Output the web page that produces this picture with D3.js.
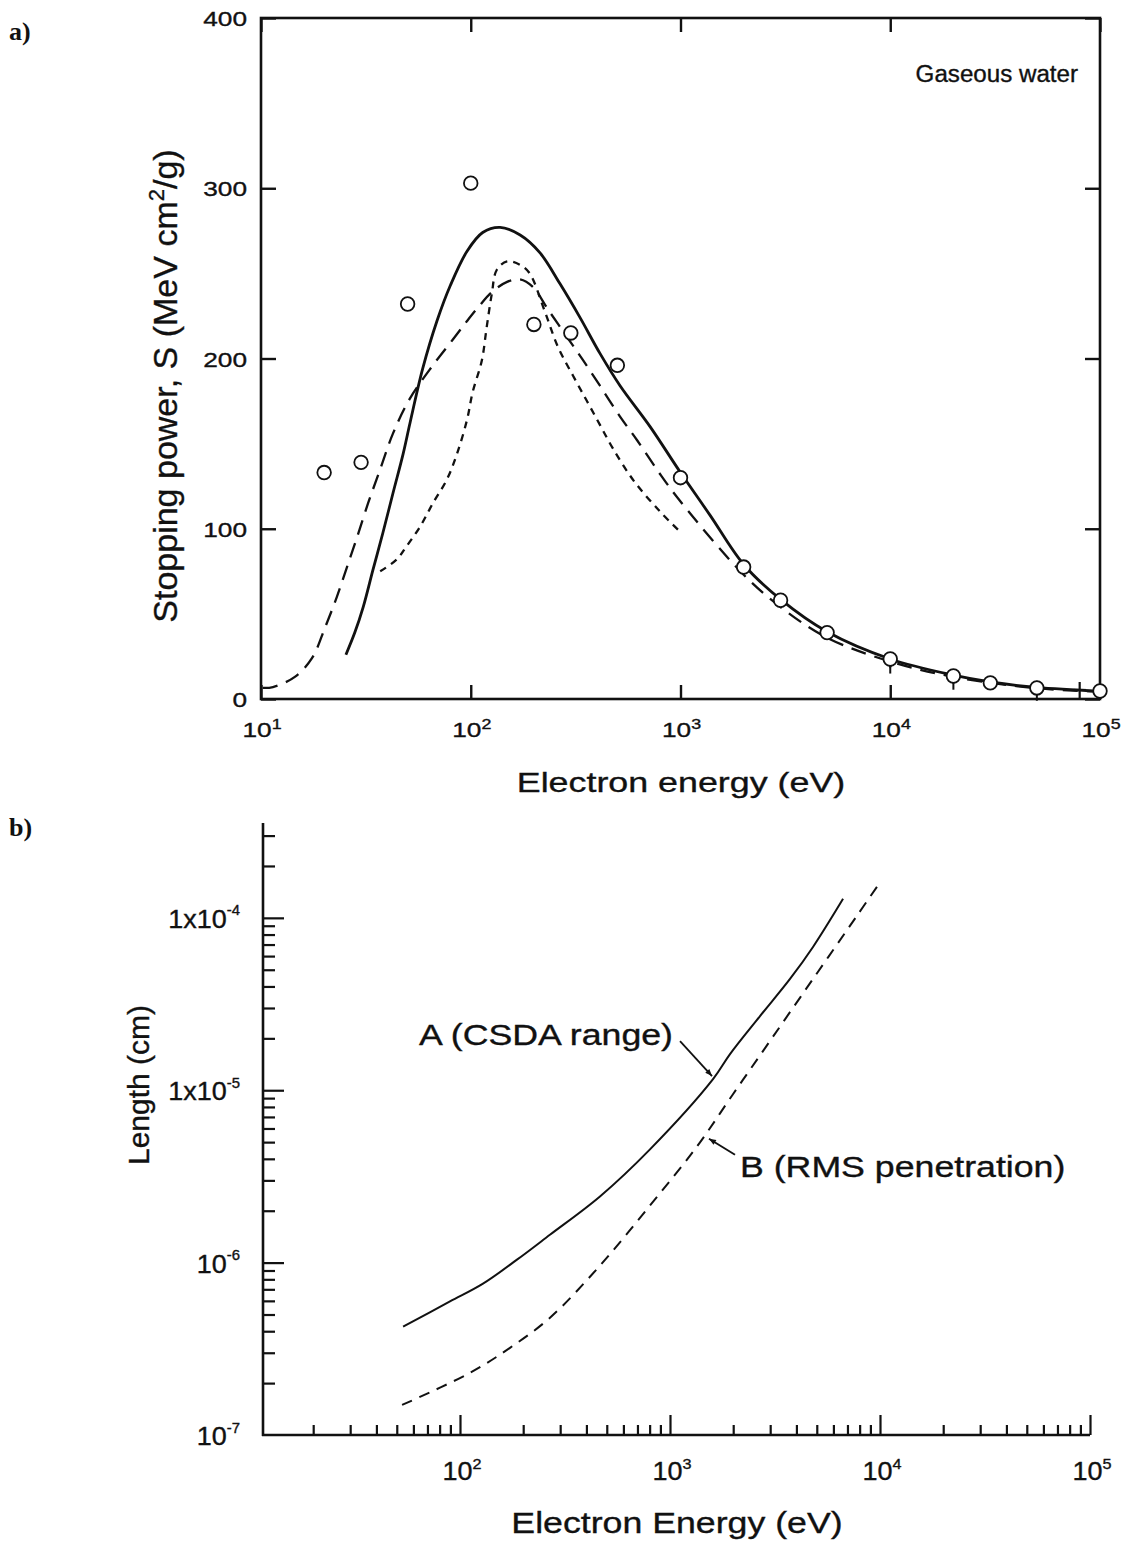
<!DOCTYPE html>
<html><head><meta charset="utf-8">
<script src="https://cdn.jsdelivr.net/npm/d3@7"></script>
<style>body{margin:0;background:#fff}</style>
</head><body>
<svg id="c" width="1125" height="1547" xmlns="http://www.w3.org/2000/svg"></svg>
<script>
// ---------------- Panel a data ----------------
const expE = [20, 30, 50, 100, 200, 300, 500, 1000, 2000, 3000, 5000, 1e4, 2e4, 3e4, 5e4, 1e5];
const expS = [133, 139, 232, 303, 220, 215, 196, 130, 77.5, 58, 39, 23.5, 13.5, 9.5, 6.5, 4.7];
const triE = [1e4, 2e4, 5e4];
const triS = [22, 12.5, 6];
const crossE = [8e4];
const crossS = [5.3];
const solidE = [25.4, 28, 30.7, 34.2, 38.1, 42.6, 47.6, 51.3, 59, 69, 80, 96, 114, 138, 172, 214, 266, 332, 413, 515, 716, 1000, 1382, 2000, 3000, 5000, 1e4, 2e4, 3e4, 5e4, 1e5];
const solidS = [26, 39, 54, 76, 97.5, 121, 144, 162, 194, 222, 243, 263, 274, 277, 272.5, 262, 244, 224, 203, 184, 160, 133, 108, 79, 58.5, 39.5, 23.5, 14, 10, 6.8, 4.5];
const longE = [10.2, 11.4, 14.5, 17.5, 20.2, 23, 25.7, 28.7, 32.4, 36.9, 42.6, 51, 66, 82, 96, 110, 126, 149, 172, 198, 233, 290, 343, 413, 514, 621, 800, 1000, 2000, 3000, 5000, 1e4, 2e4, 5e4, 1e5];
const longS = [6.5, 7, 13, 24, 42, 60, 77.5, 95, 115, 134.5, 156, 176, 196, 211, 222, 231, 239, 245, 246.5, 242, 229, 212, 199, 184, 166, 152, 132, 116, 73, 54, 36, 22, 13, 6.3, 4.3];
const shortE = [37, 44.4, 49.6, 57.2, 66, 77, 86, 96, 102, 113, 119, 126, 133, 149, 172, 191, 225, 260, 307, 358, 413, 477, 600, 800, 1000];
const shortS = [75, 82, 90, 101, 115, 129, 144, 164, 180, 199, 218, 238, 252, 257, 255, 250, 228, 207, 190, 175, 161, 147, 128, 110, 98];
const aXTicks = [10, 100, 1000, 10000, 100000];
const aXTickExp = ["1", "2", "3", "4", "5"];
const aYTicks = [0, 100, 200, 300, 400];

// ---------------- Panel b data ----------------
const csdaE = [53.6, 89.6, 128.7, 186.8, 268, 464, 803, 1603, 1931, 2683, 3728, 4797, 6670];
const csdaL = [4.25e-7, 5.95e-7, 7.55e-7, 1.04e-6, 1.45e-6, 2.42e-6, 4.54e-6, 1.16e-5, 1.62e-5, 2.69e-5, 4.42e-5, 6.78e-5, 1.29e-4];
const rmsE = [53, 111.6, 173, 268.3, 464, 803, 1345, 1995, 2993, 4797, 7760, 9676];
const rmsL = [1.494e-7, 2.294e-7, 3.204e-7, 4.79e-7, 9.61e-7, 2.145e-6, 4.72e-6, 9.48e-6, 1.93e-5, 4.42e-5, 1.027e-4, 1.514e-4];
const bXTicks = [100, 1000, 10000, 100000];
const bXTickExp = ["2", "3", "4", "5"];
const bYTicks = [1e-7, 1e-6, 1e-5, 1e-4];
const bYTickPre = ["10", "10", "1x10", "1x10"];
const bYTickExp = ["-7", "-6", "-5", "-4"];

const svg = d3.select("#c");
const SANS = "'Liberation Sans', Arial, Helvetica, sans-serif";
const INK = "#111";

function label(parent, x, y, parts, o) {
  let tr = `translate(${x},${y})`;
  if (o.rotate) tr += ` rotate(${o.rotate})`;
  tr += ` scale(${o.sx || 1},1)`;
  const g = parent.append("g").attr("transform", tr);
  const t = g.append("text")
    .attr("text-anchor", o.anchor || "start")
    .attr("font-family", o.family || SANS)
    .attr("font-size", o.size)
    .attr("font-weight", o.weight || "normal")
    .attr("fill", INK)
    .attr("stroke", INK).attr("stroke-width", o.weight ? 0 : 0.35);
  let raised = false;
  const supSize = o.size * (o.supScale || 0.62);
  const rise = o.size * (o.rise || 0.42);
  parts.forEach(p => {
    const sp = t.append("tspan").text(p.t);
    if (p.sup) { sp.attr("font-size", supSize).attr("dy", -rise); raised = true; }
    else if (raised) { sp.attr("dy", rise); raised = false; }
  });
  return g;
}
const zip = (a, b) => a.map((v, i) => [v, b[i]]);

// ================= Panel a =================
const xA = d3.scaleLog().domain([10, 1e5]).range([261, 1100]);
const yA = d3.scaleLinear().domain([0, 400]).range([699, 18]);
const gA = svg.append("g");

gA.append("rect").attr("x", xA(10)).attr("y", yA(400))
  .attr("width", xA(1e5) - xA(10)).attr("height", yA(0) - yA(400))
  .attr("fill", "none").attr("stroke", INK).attr("stroke-width", 2.6);

function ticksOnly(sel) { sel.select(".domain").remove(); sel.selectAll("text").remove();
  sel.selectAll("line").attr("stroke", INK).attr("stroke-width", 2.4); }
gA.append("g").attr("transform", `translate(0,${yA(0)})`)
  .call(d3.axisBottom(xA).tickValues(aXTicks).tickSize(-14)).call(ticksOnly);
gA.append("g").attr("transform", `translate(0,${yA(400)})`)
  .call(d3.axisTop(xA).tickValues(aXTicks).tickSize(-14)).call(ticksOnly);
gA.append("g").attr("transform", `translate(${xA(10)},0)`)
  .call(d3.axisLeft(yA).tickValues(aYTicks).tickSize(-15)).call(ticksOnly);
gA.append("g").attr("transform", `translate(${xA(1e5)},0)`)
  .call(d3.axisRight(yA).tickValues(aYTicks).tickSize(-15)).call(ticksOnly);

aYTicks.forEach(v => label(gA, xA(10) - 14, yA(v) + 8, [{t: String(v)}], {size: 21, sx: 1.25, anchor: "end"}));
aXTicks.forEach((v, i) => label(gA, xA(v) + 1, 737, [{t: "10"}, {t: aXTickExp[i], sup: true}], {size: 21, sx: 1.25, anchor: "middle", supScale: 0.68, rise: 0.38}));

label(gA, 681, 792, [{t: "Electron energy (eV)"}], {size: 28, sx: 1.28, anchor: "middle"});
label(gA, 177, 386, [{t: "Stopping power, S (MeV cm"}, {t: "2", sup: true}, {t: "/g)"}], {size: 34, rotate: -90, anchor: "middle", supScale: 0.65, rise: 0.38});
label(gA, 1078, 82, [{t: "Gaseous water"}], {size: 23, sx: 1.05, anchor: "end"});
label(svg, 9, 40, [{t: "a)"}], {size: 26, family: "'Liberation Serif', 'Times New Roman', serif", weight: "bold"});

const lineA = d3.line().x(d => xA(d[0])).y(d => yA(d[1])).curve(d3.curveCatmullRom.alpha(0.5));
gA.append("path").attr("d", lineA(zip(longE, longS))).attr("fill", "none")
  .attr("stroke", INK).attr("stroke-width", 2.3).attr("stroke-dasharray", "15,9");
gA.append("path").attr("d", lineA(zip(shortE, shortS))).attr("fill", "none")
  .attr("stroke", INK).attr("stroke-width", 2.3).attr("stroke-dasharray", "7,6");
gA.append("path").attr("d", lineA(zip(solidE, solidS))).attr("fill", "none")
  .attr("stroke", INK).attr("stroke-width", 2.8);

zip(triE, triS).forEach(d => {
  const x = xA(d[0]), y = yA(d[1]);
  gA.append("line").attr("x1", x).attr("x2", x).attr("y1", y - 8).attr("y2", y + 12).attr("stroke", INK).attr("stroke-width", 2);
  gA.append("path").attr("d", d3.symbol(d3.symbolTriangle, 70)()).attr("transform", `translate(${x},${y}) rotate(180)`).attr("fill", INK);
});
zip(crossE, crossS).forEach(d => {
  const x = xA(d[0]), y = yA(d[1]);
  gA.append("line").attr("x1", x).attr("x2", x).attr("y1", y - 8).attr("y2", y + 8).attr("stroke", INK).attr("stroke-width", 2.2);
  gA.append("line").attr("x1", x - 6).attr("x2", x + 6).attr("y1", y).attr("y2", y).attr("stroke", INK).attr("stroke-width", 2.2);
});
gA.selectAll("circle.exp").data(zip(expE, expS)).join("circle")
  .attr("cx", d => xA(d[0])).attr("cy", d => yA(d[1])).attr("r", 6.8)
  .attr("fill", "#fff").attr("stroke", INK).attr("stroke-width", 1.8);

// ================= Panel b =================
const xB = d3.scaleLog().domain([Math.pow(10, 1.062), 1e5]).range([263, 1090]);
const yB = d3.scaleLog().domain([1e-7, 3.55e-4]).range([1435, 823]);
const gB = svg.append("g");

gB.append("line").attr("x1", xB.range()[0]).attr("x2", xB.range()[0]).attr("y1", yB.range()[1]).attr("y2", yB.range()[0] + 1)
  .attr("stroke", INK).attr("stroke-width", 2.6);
gB.append("line").attr("x1", xB.range()[0] - 1).attr("x2", xB.range()[1]).attr("y1", yB.range()[0]).attr("y2", yB.range()[0])
  .attr("stroke", INK).attr("stroke-width", 2.6);

const bXMinor = [];
[10, 100, 1000, 10000].forEach(d => { for (let k = 2; k <= 9; k++) bXMinor.push(k * d); });
const bYMinor = [];
[1e-7, 1e-6, 1e-5].forEach(d => { for (let k = 2; k <= 9; k++) bYMinor.push(k * d); });
bYMinor.push(2e-4, 3e-4);

function ticksB(sel) { sel.select(".domain").remove(); sel.selectAll("text").remove();
  sel.selectAll("line").attr("stroke", INK).attr("stroke-width", 2.2); }
gB.append("g").attr("transform", `translate(0,${yB.range()[0]})`)
  .call(d3.axisBottom(xB).tickValues(bXTicks).tickSize(-20)).call(ticksB);
gB.append("g").attr("transform", `translate(0,${yB.range()[0]})`)
  .call(d3.axisBottom(xB).tickValues(bXMinor).tickSize(-10)).call(ticksB);
gB.append("g").attr("transform", `translate(${xB.range()[0]},0)`)
  .call(d3.axisLeft(yB).tickValues(bYTicks.slice(1)).tickSize(-21)).call(ticksB);
gB.append("g").attr("transform", `translate(${xB.range()[0]},0)`)
  .call(d3.axisLeft(yB).tickValues(bYMinor).tickSize(-12)).call(ticksB);

bYTicks.forEach((v, i) => label(gB, 240, yB(v) + 10, [{t: bYTickPre[i]}, {t: bYTickExp[i], sup: true}], {size: 25, sx: 1.08, anchor: "end", supScale: 0.55, rise: 0.5}));
bXTicks.forEach((v, i) => label(gB, xB(v) + 2, 1480, [{t: "10"}, {t: bXTickExp[i], sup: true}], {size: 25, sx: 1.08, anchor: "middle", supScale: 0.6, rise: 0.45}));

label(gB, 677, 1533, [{t: "Electron Energy (eV)"}], {size: 30, sx: 1.19, anchor: "middle"});
label(gB, 149, 1085, [{t: "Length (cm)"}], {size: 30, rotate: -90, anchor: "middle"});
label(svg, 9, 836, [{t: "b)"}], {size: 26, family: "'Liberation Serif', 'Times New Roman', serif", weight: "bold"});

const lineB = d3.line().x(d => xB(d[0])).y(d => yB(d[1])).curve(d3.curveCatmullRom.alpha(0.5));
gB.append("path").attr("d", lineB(zip(csdaE, csdaL))).attr("fill", "none").attr("stroke", INK).attr("stroke-width", 2);
gB.append("path").attr("d", lineB(zip(rmsE, rmsL))).attr("fill", "none").attr("stroke", INK).attr("stroke-width", 2).attr("stroke-dasharray", "11,8");

const defs = svg.append("defs");
defs.append("marker").attr("id", "ah").attr("viewBox", "0 0 10 10").attr("refX", 10).attr("refY", 5)
  .attr("markerWidth", 9).attr("markerHeight", 7).attr("orient", "auto").attr("markerUnits", "userSpaceOnUse")
  .append("path").attr("d", "M0,1 L10,5 L0,9 Z").attr("fill", INK);
const annA = {E: 1603, L: 1.16e-5, text: "A (CSDA range)"};
const annB = {E: 1517, L: 5.3e-6, text: "B (RMS penetration)"};
const ax = xB(annA.E), ay = yB(annA.L);
gB.append("line").attr("x1", ax - 33).attr("y1", ay - 38).attr("x2", ax - 1).attr("y2", ay - 3)
  .attr("stroke", INK).attr("stroke-width", 1.8).attr("marker-end", "url(#ah)");
label(gB, ax - 40, ay - 34, [{t: annA.text}], {size: 30, sx: 1.19, anchor: "end"});
const bx = xB(annB.E), by = yB(annB.L);
gB.append("line").attr("x1", bx + 27).attr("y1", by + 17).attr("x2", bx + 1).attr("y2", by + 1)
  .attr("stroke", INK).attr("stroke-width", 1.8).attr("marker-end", "url(#ah)");
label(gB, bx + 32, by + 39, [{t: annB.text}], {size: 30, sx: 1.19, anchor: "start"});
</script>
</body></html>
